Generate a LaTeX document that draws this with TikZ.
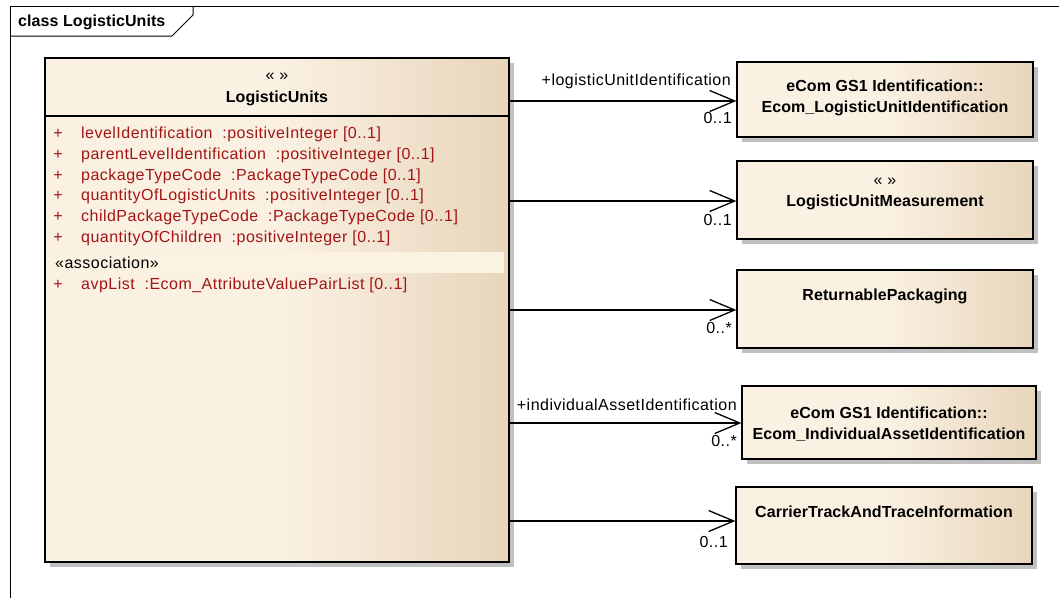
\documentclass[tikz,border=0pt]{standalone}
\usepackage{fontspec}
\setmainfont{Liberation Sans}
\newfontfamily\umlreg{Liberation Sans}[LetterSpace=3]
\newfontfamily\umlbold{Liberation Sans}[LetterSpace=0.5]
\usetikzlibrary{arrows.meta,shadows}
\definecolor{umlLight}{RGB}{250,241,227}
\definecolor{umlTan}{RGB}{232,213,187}
\definecolor{umlShadow}{RGB}{192,192,192}
\definecolor{umlBand}{RGB}{251,242,226}
\definecolor{attrRed}{RGB}{163,21,21}

\begin{document}
\begin{tikzpicture}[x=1pt,y=-1pt,
  box/.style={draw=black, line width=1.3pt, inner sep=0pt, left color=umlLight, right color=umlTan, middle color=umlLight, drop shadow={shadow xshift=5pt, shadow yshift=-5pt, fill=umlShadow, opacity=1}},
  title/.style={font=\umlbold\bfseries\fontsize{16}{21}\selectfont, inner sep=0pt},
  attr/.style={font=\umlreg\fontsize{16}{18}\selectfont, text=attrRed, inner sep=0pt},
  stereo/.style={font=\umlreg\fontsize{16}{18}\selectfont, inner sep=0pt},
  lbl/.style={font=\umlreg\fontsize{16}{18}\selectfont, inner sep=0pt, anchor=base east},
  assoc/.style={line width=1.2pt, -{Straight Barb[length=25pt,width=21pt,line width=1.3pt]}}]
\useasboundingbox (0,0) rectangle (1059,598);
% frame
\draw[line width=1pt] (10,598) -- (10,6) -- (1059,6);
\draw[line width=1pt] (10,36) -- (172,36) -- (193,15) -- (193,6);
\node[title, anchor=base west] (frm) at (18,26.5) {class LogisticUnits};

% main class
\node[box, minimum width=464pt, minimum height=504pt] (lu) at (277,310) {};
\draw[line width=1.3pt] (lu.west |- 0,116) -- (lu.east |- 0,116);
\node[stereo] (lus) at (277,77) {« »};
\node[title, anchor=base] (lun) at (277,102.5) {LogisticUnits};
\foreach \i/\a in {1/{levelIdentification~~:positiveInteger [0..1]},
                   2/{parentLevelIdentification~~:positiveInteger [0..1]},
                   3/{packageTypeCode~~:PackageTypeCode [0..1]},
                   4/{quantityOfLogisticUnits~~:positiveInteger [0..1]},
                   5/{childPackageTypeCode~~:PackageTypeCode [0..1]},
                   6/{quantityOfChildren~~:positiveInteger [0..1]}} {
  \node[attr, anchor=base] (p\i) at (58,{138.5+20.8*(\i-1)}) {+};
  \node[attr, anchor=base west] (a\i) at (81,{138.5+20.8*(\i-1)}) {\a};
}
\fill[umlBand] (50,252) rectangle (504,273);
\node[lbl, anchor=base west] (asc) at (55,268.5) {«association»};
\node[attr, anchor=base] (p7) at (58,289.5) {+};
\node[attr, anchor=base west] (a7) at (81,289.5) {avpList~~:Ecom\_AttributeValuePairList [0..1]};

% targets
\node[box, minimum width=296pt, minimum height=75pt] (b1) at (885,99.5) {};
\node[title, anchor=base] (b1a) at (885,91.5) {eCom GS1 Identification::};
\node[title, anchor=base] (b1b) at (885,112.5) {Ecom\_LogisticUnitIdentification};

\node[box, minimum width=296pt, minimum height=78pt] (b2) at (885,200) {};
\node[stereo] (b2s) at (885,182) {« »};
\node[title, anchor=base] (b2a) at (885,206.5) {LogisticUnitMeasurement};

\node[box, minimum width=296pt, minimum height=78pt] (b3) at (885,309) {};
\node[title, anchor=base] (b3a) at (885,300.5) {ReturnablePackaging};

\node[box, minimum width=294pt, minimum height=73pt] (b4) at (889,422.5) {};
\node[title, anchor=base] (b4a) at (889,418.5) {eCom GS1 Identification::};
\node[title, anchor=base] (b4b) at (889,439.5) {Ecom\_IndividualAssetIdentification};

\node[box, minimum width=296pt, minimum height=77pt] (b5) at (884,525.5) {};
\node[title, anchor=base] (b5a) at (884,517.5) {CarrierTrackAndTraceInformation};

% associations
\draw[assoc] (lu.east |- 0,101) -- (b1.west |- 0,101)
  node[lbl, pos=1, xshift=-5pt, yshift=15.5pt] (r1) {+logisticUnitIdentification}
  node[lbl, pos=1, xshift=-4pt, yshift=-22.5pt] (m1) {0..1};
\draw[assoc] (lu.east |- 0,201) -- (b2.west |- 0,201)
  node[lbl, pos=1, xshift=-4pt, yshift=-24.5pt] (m2) {0..1};
\draw[assoc] (lu.east |- 0,310) -- (b3.west |- 0,310)
  node[lbl, pos=1, xshift=-4pt, yshift=-23.5pt] (m3) {0..*};
\draw[assoc] (lu.east |- 0,423) -- (b4.west |- 0,423)
  node[lbl, pos=1, xshift=-4pt, yshift=13pt] (r4) {+individualAssetIdentification}
  node[lbl, pos=1, xshift=-4pt, yshift=-23pt] (m4) {0..*};
\draw[assoc] (lu.east |- 0,521) -- (b5.west |- 0,521)
  node[lbl, pos=1, xshift=-7pt, yshift=-26pt] (m5) {0..1};
\end{tikzpicture}
\end{document}
